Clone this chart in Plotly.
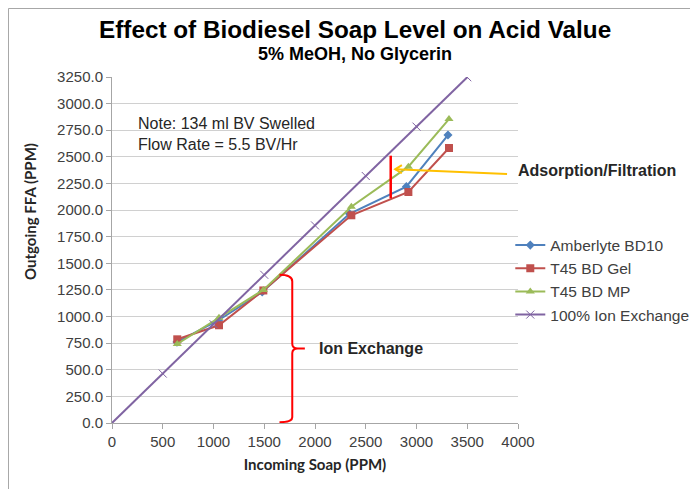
import plotly.graph_objects as go

# ---- data ----
soap_amb = [640, 1050, 1480, 2340, 2900, 3310]
ffa_amb = [760, 965, 1230, 1965, 2220, 2705]
soap_gel = [643, 1054, 1491, 2358, 2920, 3320]
ffa_gel = [786, 918, 1245, 1951, 2170, 2583]
soap_mp = [643, 1054, 1491, 2358, 2920, 3320]
ffa_mp = [742, 989, 1250, 2032, 2408, 2855]
soap_ion = [0, 500, 1000, 1500, 2000, 2500, 3000, 3500]
ffa_ion = [0, 464, 928, 1392, 1856, 2320, 2784, 3248]

x_ticks = [0, 500, 1000, 1500, 2000, 2500, 3000, 3500, 4000]
y_ticks = [i * 250 for i in range(14)]

series = [
    ("Amberlyte BD10", soap_amb, ffa_amb, "#4F81BD", "diamond", 7),
    ("T45 BD Gel", soap_gel, ffa_gel, "#C0504D", "square", 8),
    ("T45 BD MP", soap_mp, ffa_mp, "#9BBB59", "triangle-up", 8),
]

fig = go.Figure()
for name, xs, ys, col, sym, sz in series:
    fig.add_trace(go.Scatter(x=xs, y=ys, name=name, mode="lines+markers",
                             line=dict(color=col, width=2),
                             marker=dict(symbol=sym, size=sz, color=col)))
fig.add_trace(go.Scatter(x=soap_ion, y=ffa_ion, name="100% Ion Exchange",
                         mode="lines+markers",
                         line=dict(color="#8064A2", width=2),
                         marker=dict(symbol="x-thin-open", size=8,
                                     line=dict(color="#B3A2C7", width=1))))

font_main = "Liberation Sans, Arial, sans-serif"
font_axis = "Lato, Open Sans, sans-serif"

# annotation geometry (data coords)
ads_x, ads_y0, ads_y1 = 2746, 2110, 2511
arrow_tip = (2790, 2383)
arrow_tail = (3892, 2339)
chevron_path = "M 2856,2422 L 2790,2383 L 2856,2346"
brace_path = ("M 1650,1392 Q 1776,1392 1776,1330 L 1776,745 "
              "Q 1776,700 1830,700 L 1900,700 M 1830,700 "
              "Q 1776,700 1776,655 L 1776,55 Q 1776,8 1650,8")

# page body has an 8px margin: figure is drawn 8px in from the window edge;
# figure is made a little wider than the window so the legend never pushes margins
fig.update_layout(
    width=712, height=481,
    margin=dict(l=104, r=202, t=69, b=66),
    paper_bgcolor="white", plot_bgcolor="white",
    font=dict(family=font_main, size=15, color="#404040"),
    showlegend=True,
    legend=dict(x=0.981, y=0.562, xanchor="left", yanchor="top",
                font=dict(size=15.5, color="#404040"),
                tracegroupgap=0, bgcolor="rgba(0,0,0,0)"),
    xaxis=dict(range=[0, 4000], tickvals=x_ticks, showgrid=False,
               showline=True, linecolor="#a6a6a6", linewidth=1,
               ticks="outside", ticklen=5, tickcolor="#a6a6a6",
               zeroline=False, tickfont=dict(size=15, color="#404040"),
               title=dict(text="<b>Incoming Soap (PPM)</b>",
                          font=dict(family=font_axis, size=15, color="#262626"),
                          standoff=10)),
    yaxis=dict(range=[0, 3250], tickvals=y_ticks, tickformat=".1f",
               showgrid=True, gridcolor="#d0d0d0", gridwidth=1,
               showline=True, linecolor="#a6a6a6", linewidth=1,
               ticks="outside", ticklen=5, tickcolor="#a6a6a6",
               zeroline=False, tickfont=dict(size=15, color="#404040")),
    shapes=[
        dict(type="rect", xref="paper", yref="paper",
             x0=-0.2550, x1=2.0, y0=-0.5, y1=1.1980,
             line=dict(color="#a6a6a6", width=1), fillcolor="rgba(0,0,0,0)",
             layer="below"),
        dict(type="line", xref="x", yref="y", x0=ads_x, x1=ads_x,
             y0=ads_y0, y1=ads_y1, line=dict(color="#FF0000", width=2.5)),
        dict(type="path", xref="x", yref="y", path=brace_path,
             line=dict(color="#FF0000", width=2)),
        dict(type="line", xref="x", yref="y", x0=arrow_tail[0], y0=arrow_tail[1],
             x1=arrow_tip[0], y1=arrow_tip[1], line=dict(color="#FFC000", width=2)),
        dict(type="path", xref="x", yref="y", path=chevron_path,
             line=dict(color="#FFC000", width=2)),
    ],
    annotations=[
        dict(text="<b>Effect of Biodiesel Soap Level on Acid Value</b>",
             xref="paper", yref="paper", x=(355 - 112) / 406, y=(423 - 30) / 346,
             xanchor="center", yanchor="middle", showarrow=False,
             font=dict(size=24.3, color="#000000")),
        dict(text="<b>5% MeOH, No Glycerin</b>",
             xref="paper", yref="paper", x=(355 - 112) / 406, y=(423 - 54) / 346,
             xanchor="center", yanchor="middle", showarrow=False,
             font=dict(size=18, color="#000000")),
        dict(text="<b>Outgoing FFA (PPM)</b>", textangle=-90,
             xref="paper", yref="paper", x=(30 - 112) / 406, y=(423 - 212) / 346,
             xanchor="center", yanchor="middle", showarrow=False,
             font=dict(family=font_axis, size=15, color="#262626")),
        dict(text="Note: 134 ml BV Swelled<br>Flow Rate = 5.5 BV/Hr",
             xref="x", yref="y", x=236, y=2712, xanchor="left", yanchor="middle",
             align="left", showarrow=False,
             font=dict(size=16, color="#262626")),
        dict(text="<b>Adsorption/Filtration</b>", xref="x", yref="y",
             x=3985, y=2376, xanchor="left", yanchor="middle", showarrow=False,
             font=dict(size=16, color="#262626")),
        dict(text="<b>Ion Exchange</b>", xref="x", yref="y",
             x=2020, y=702, xanchor="left", yanchor="middle", showarrow=False,
             font=dict(size=16, color="#262626")),
    ],
)

fig.write_html("out.html")
